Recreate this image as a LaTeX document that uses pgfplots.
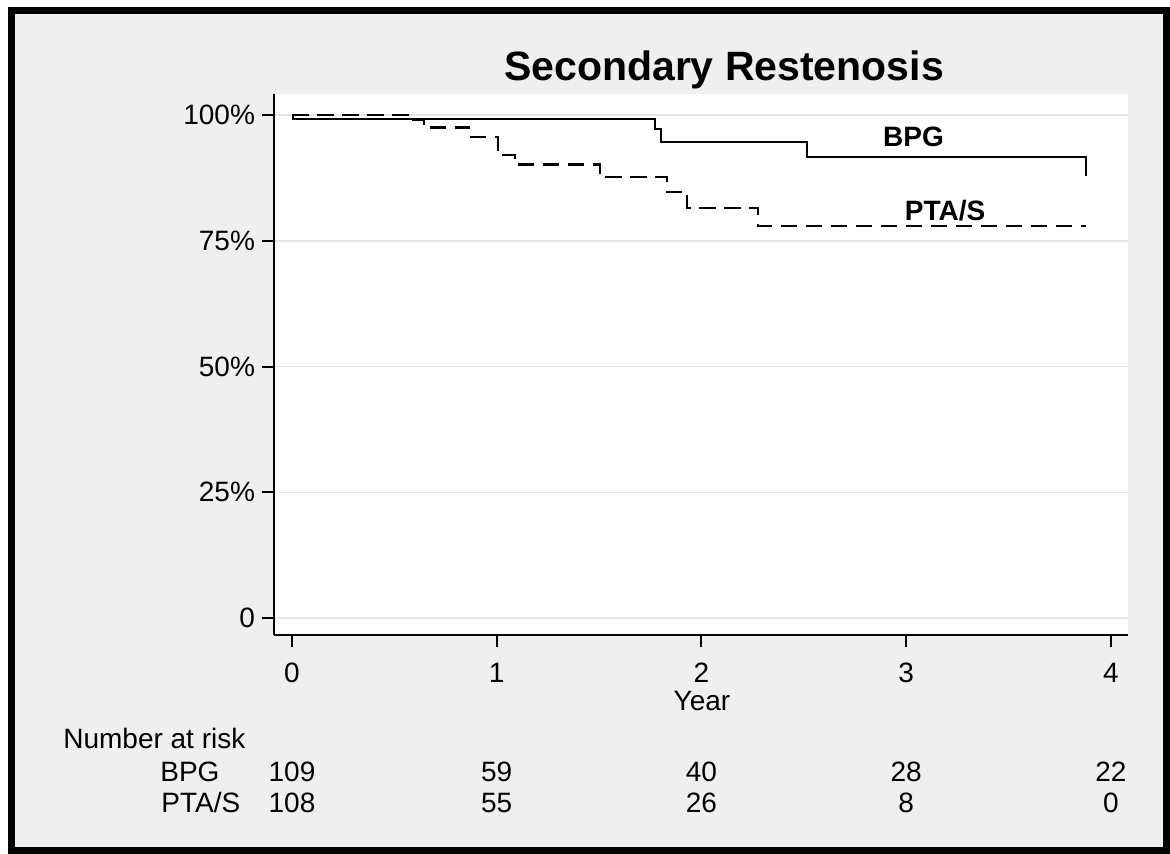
\documentclass[border=0pt]{standalone}
\usepackage{pgfplots}
\pgfplotsset{compat=1.18}
\usepackage{fontspec}
\setmainfont{Liberation Sans}
\definecolor{bgg}{RGB}{239,239,239}
\definecolor{gridg}{RGB}{230,230,230}
\pgfplotstableread{
t s
0 100
0.004 99.3
1.773 97.2
1.801 94.7
2.514 91.7
3.877 87.9
}\bpg
\pgfplotstableread{
t s
0 100
0.576 99.0
0.645 97.55
0.866 95.6
1.006 92.05
1.089 90.2
1.505 87.7
1.830 84.75
1.928 81.6
2.278 77.9
3.879 77.9
}\ptas
\tikzset{rt/.style={font=\fontsize{14}{16.8}\selectfont, anchor=base, inner sep=0pt}}
\begin{document}
\begin{tikzpicture}
\useasboundingbox (0,0) rectangle (585pt,-426.5pt);
\fill[white] (0,0) rectangle (585pt,-426.5pt);
\draw[line width=3.3pt, fill=bgg] (5.75pt,-5.1pt) rectangle (583.3pt,-425.3pt);
\node[anchor=base, font=\fontsize{20.5}{24}\selectfont\bfseries] at (362pt,-40pt) {Secondary Restenosis};
\begin{axis}[
 at={(137pt,-317.5pt)}, anchor=south west,
 scale only axis, width=427pt, height=270.5pt,
 xmin=-0.088, xmax=4.084, ymin=-3.38, ymax=104.2,
 axis x line=bottom, axis y line=left,
 axis line style={-, line width=1pt, black},
 axis background/.style={fill=white},
 xtick={0,1,2,3,4}, ytick={0,25,50,75,100},
 yticklabels={0,25\%,50\%,75\%,100\%},
 tick align=outside, major tick length=6pt,
 tick style={line width=1pt, black},
 ymajorgrids, grid style={line width=0.7pt, gridg},
 tick label style={font=\fontsize{14}{16.8}\selectfont},
 xticklabel style={yshift=-4.5pt},
 /pgf/number format/assume math mode=true,
 clip=false,
]
\addplot[const plot, black, line width=1.1pt] table[x=t,y=s] {\bpg};
\addplot[const plot, black, line width=1.1pt, dash pattern=on 8.3pt off 4.2pt] table[x=t,y=s] {\ptas};
\node[font=\fontsize{14}{16.8}\selectfont\bfseries, anchor=center] at (axis cs:3.036,95.7) {BPG};
\node[font=\fontsize{14}{16.8}\selectfont\bfseries, anchor=center] at (axis cs:3.19,81.0) {PTA/S};
\node[rt, anchor=base west] at (axis cs:-1.119,-25.85) {Number at risk};
\node[rt, anchor=base west] at (axis cs:-0.645,-32.6) {BPG};
\node[rt, anchor=base west] at (axis cs:-0.640,-38.77) {PTA/S};
\node[rt] at (axis cs:0,-32.6) {109};
\node[rt] at (axis cs:1,-32.6) {59};
\node[rt] at (axis cs:2,-32.6) {40};
\node[rt] at (axis cs:3,-32.6) {28};
\node[rt] at (axis cs:4,-32.6) {22};
\node[rt] at (axis cs:0,-38.77) {108};
\node[rt] at (axis cs:1,-38.77) {55};
\node[rt] at (axis cs:2,-38.77) {26};
\node[rt] at (axis cs:3,-38.77) {8};
\node[rt] at (axis cs:4,-38.77) {0};
\end{axis}
\node[anchor=base, font=\fontsize{14}{16.8}\selectfont, inner sep=0pt] at (351pt,-355pt) {Year};
\end{tikzpicture}
\end{document}
